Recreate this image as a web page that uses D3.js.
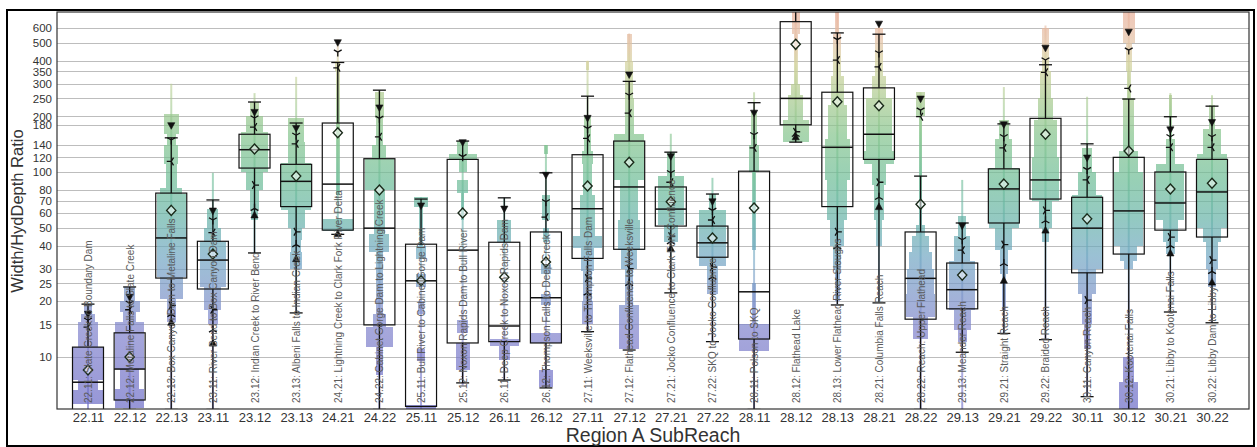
<!DOCTYPE html>
<html><head><meta charset="utf-8">
<script src="https://cdn.jsdelivr.net/npm/d3@7"></script>
<style>body{margin:0;background:#fff;} svg{display:block;font-family:"Liberation Sans",Arial,sans-serif;}</style>
</head><body><svg id="c" width="1257" height="447"></svg>
<script>
const categories = ["22.11","22.12","22.13","23.11","23.12","23.13","24.21","24.22","25.11","25.12","26.11","26.12","27.11","27.12","27.21","27.22","28.11","28.12","28.13","28.21","28.22","29.13","29.21","29.22","30.11","30.12","30.21","30.22"];
const reachNames = ["22.11: Slate Creek to Boundary Dam","22.12: Metaline Falls to Slate Creek","22.13: Box Canyon Dam to Metaline Falls","23.11: River Bend to Box Canyon Dam","23.12: Indian Creek to River Bend","23.13: Albeni Falls to Indian Creek","24.21: Lightning Creek to Clark Fork River Delta","24.22: Cabinet Gorge Dam to Lightning Creek","25.11: Bull River to Cabinet Gorge Dam","25.12: Noxon Rapids Dam to Bull River","26.11: Deep Creek to Noxon Rapids Dam","26.12: Thompson Falls to Deep Creek","27.11: Weeksville to Thompson Falls Dam","27.12: Flathead Confluence to Weeksville","27.21: Jocko Confluence to Clark Fork Confluence","27.22: SKQ to Jocko Confluence","28.11: Polson to SKQ","28.12: Flathead Lake","28.13: Lower Flathead River Sloughs","28.21: Columbia Falls Reach","28.22: Reach: Upper Flathead","29.13: Meander Reach","29.21: Straight Reach","29.22: Braided Reach","30.11: Canyon Reach","30.12: Kootenai Falls","30.21: Libby to Kootenai Falls","30.22: Libby Dam to Libby"];
const yTicks = [10,15,20,25,30,40,50,60,70,80,100,120,140,180,200,250,300,350,400,500,600];

const q1 =        [5.0, 5.85,26.7,23.3,105, 65,  48.5,14.9,5.4, 11.9,12.1,11.9,34.1,38.2,51, 34.6,12.5,180,65, 117,16.0,18.2,53, 71.4,28.5,36, 48.5,44.5];
const medians =   [7.3, 8.6, 44,  33.4,132, 89,  86,  49.7,25.8,37.8,14.7,20.9,63.3,83, 63, 41.4,22.5,250,136,160,26.6,23.1,81, 90.6,49.7,61.6,68, 78];
const q3 =        [11.3,13.5,76.9,42.2,160, 110, 184, 118, 40.7,117, 41.7,47.4,124, 147,83, 51, 101, 650,270,285,47.4,32.2,104,195, 73, 120, 100,117];
const whiskerLo = [5.0, 5.2, 5.2, 5.2, 36.5,17.3,46,  5.2, null,7.24,7.5, 6.8, 13.7,10.9,22.2,12.1,5.2,145,19.1,19.6,5.2,10.6,13.4,12.4,6.1,5.2,17.5,15.3];
const whiskerHi = [19.3,23.9,153, 70.6,239, 184, 391, 277, 71.4,147, 72.5,99,  257, 309,128,76, 237, 900,565,556,95, 53, 182,380, 142,248, 199,227];
const means =     [8.5, 10,  62,  36,  133, 95,  163, 80,  25.8,60,  27,  32.6,84,  113,69, 44, 63.9,490,240,228,67, 27.7,86, 160, 55.8,130,81, 87];
const rangeLo =   [5.0, 5.2, 5.2, 5.2, 36.5,17.3,46,  5.2, 5.2, 7.0, 7.5, 6.8, 13.7,10.9,22.2,12.1,5.2,145,19.1,19.6,5.2,5.2,13.4,12.4,6.1,5.2,17.5,15.3];
const rangeHi =   [19.3,23.9,300, 99,  267, 327, 520, 277, 73,  147, 72.5,140, 400, 560,161,93, 270, 900,900,630,270,90.6,288,620,255,900,267,260];
// upper percentile markers: [down-triangle, tri-down, tri-left]
const upperMarks = [[17.0,15.8,14.5],[21,19.5,18],[178,149,114],[61.5,55,47],[210,196,175],[172,158,142],[500,445,366],[222,195,155],[65.5,null,null],[144,121,null],[63,null,null],[96,69,57],[195,172,152],[335,260,208],[121,99,88],[69,62,55],[208,159,135],[null,null,null],[null,520,403],[630,440,370],[248,216,199],[51,43,37.8],[180,155,135],[467,403,346],[119,103,90.6],[570,456,283],[169,155,136],[185,155,136]];
// lower percentile markers: [tri-right, tri-up, up-triangle]
const lowerMarks = [[null,null,null],[null,null,null],[19,17,15.4],[18,14,11.9],[85,63.6,58.6],[47.5,40.5,34],[null,null,46.5],[null,null,null],[null,null,null],[null,null,null],[null,null,null],[null,null,null],[26.7,22.2,null],[30,25,null],[45,42,38.7],[30.6,27,null],[null,null,null],[165,160,155],[47.5,39.5,null],[88,73,65],[null,null,null],[null,null,null],[40.5,32,26],[62,54.5,48.5],[20.3,null,null],[null,null,null],[44.5,40,36.5],[33.4,29,25.4]];
// letter-value silhouette per reach: [low, high, relative width]
const boxen = [
 [[17,19.3,0.25],[15.5,17,0.45],[11.3,15.5,0.65],[7.5,11.3,0.95],[6.6,7.5,0.65],[5.6,6.6,0.95]],
 [[20,24,0.35],[17.5,20,0.65],[15.5,17.5,0.4],[8.6,15.5,0.95],[6.7,8.6,0.6],[5.3,6.7,0.95]],
 [[160,207,0.5],[140,160,0.3],[110,140,0.45],[82,110,0.35],[76,82,0.7],[27,76,0.95],[20.5,27,0.75],[15.5,20.5,0.3]],
 [[50,63,0.35],[42,50,0.55],[24,42,0.85],[18,24,0.55],[15,18,0.3]],
 [[200,240,0.3],[165,200,0.55],[100,165,0.9],[80,100,0.55],[62,80,0.3],[55,62,0.2]],
 [[145,195,0.5],[112,145,0.55],[62,112,0.95],[50,62,0.55],[43,50,0.35],[37,43,0.3],[30,37,0.4]],
 [[350,400,0.15],[110,350,0.14],[75,110,0.12],[48,56,0.95]],
 [[195,270,0.28],[140,195,0.2],[118,140,0.45],[80,118,0.95],[46,80,0.35],[37,46,0.65],[17,37,0.25],[14.5,17,0.4],[11.3,14.5,0.85],[8,11.3,0.25]],
 [[65,73,0.45],[40,65,0.1],[34,40,0.3],[24,28,0.35],[17,20,0.2],[9.5,11,0.25],[5.2,5.5,0.95]],
 [[125,147,0.35],[117,125,0.9],[100,117,0.25],[77,90,0.35],[55,77,0.1],[13.5,15.8,0.35],[8.5,11.9,0.45]],
 [[42,55,0.45],[11.5,12.5,0.95],[9.6,11.5,0.35]],
 [[125,140,0.15],[55,75,0.25],[42,50,0.2],[28,32,0.35],[19,22,0.35],[11.9,13.5,0.95],[6.9,8.5,0.45]],
 [[355,400,0.12],[130,200,0.25],[110,130,0.35],[75,110,0.3],[45,75,0.5],[39,45,0.95],[29,39,0.4],[20,29,0.3],[15,20,0.35]],
 [[400,560,0.15],[250,400,0.25],[160,250,0.3],[90,160,0.95],[55,90,0.6],[38,55,0.7],[30,38,0.5],[19,30,0.25],[11,19,0.65]],
 [[95,128,0.25],[52,95,0.85],[42,52,0.45]],
 [[62,76,0.25],[31,62,0.85],[22,31,0.35]],
 [[140,210,0.2],[100,140,0.3],[38,100,0.12],[14,25,0.12],[10.8,15,0.95]],
 [[560,900,0.25],[300,560,0.12],[260,300,0.3],[190,260,0.5],[145,190,0.85]],
 [[560,900,0.12],[330,560,0.25],[230,330,0.4],[150,230,0.6],[90,150,0.8],[55,90,0.65],[40,55,0.45],[30,40,0.25],[20,30,0.15]],
 [[330,600,0.25],[250,330,0.45],[130,250,0.85],[110,130,0.95],[85,110,0.45],[55,85,0.3],[40,55,0.2]],
 [[200,270,0.28],[52,200,0.08],[45,52,0.3],[37,45,0.55],[30,37,0.75],[22,30,0.85],[16.5,22,0.95],[12.5,16.5,0.5]],
 [[45,58,0.25],[33,45,0.5],[18,33,0.85],[14,18,0.55],[12,14,0.3]],
 [[150,190,0.3],[105,150,0.55],[50,105,0.95],[38,50,0.55],[28,38,0.25],[18,28,0.12]],
 [[350,600,0.2],[250,350,0.35],[190,250,0.5],[120,190,0.75],[70,120,0.85],[50,70,0.45],[42,50,0.25]],
 [[100,135,0.3],[75,100,0.6],[30,75,0.95],[22,30,0.6],[15,22,0.3],[11,15,0.2]],
 [[500,900,0.4],[350,500,0.2],[250,350,0.12],[130,250,0.35],[100,130,0.6],[40,100,0.95],[33,40,0.55],[30,33,0.3],[7.3,10,0.35],[5.2,7.3,0.6]],
 [[150,260,0.1],[110,150,0.3],[55,110,0.9],[42,55,0.5],[36,42,0.3]],
 [[170,230,0.2],[125,170,0.55],[50,125,0.95],[42,50,0.6],[30,42,0.4],[24,30,0.25]]
];
const colorValues = [5.2,8,14,22,35,55,90,160,260,380,520,733];
const colorStops = ["#6a6ac6","#7474c8","#8082cc","#7a94c8","#70a6c2","#66b2a8","#6cbc96","#84c48c","#acca8e","#d2d29c","#e4c0a4","#e8ae98"];

const svg = d3.select("#c");
const P = {l:57, r:1249, t:12, b:409};
const y = d3.scaleLog().domain([5.23,733]).range([P.b,P.t]);
const x = d3.scalePoint().domain(categories).range([88,1212]);
const boxW = 31;

const defs = svg.append("defs");
defs.append("clipPath").attr("id","clip").append("rect").attr("x",P.l).attr("y",P.t).attr("width",P.r-P.l).attr("height",P.b-P.t);
const grad = defs.append("linearGradient").attr("id","cg").attr("gradientUnits","userSpaceOnUse")
  .attr("x1",0).attr("x2",0).attr("y1",P.b).attr("y2",P.t);
colorValues.forEach((v,i)=>{
  grad.append("stop").attr("offset",(P.b-y(v))/(P.b-P.t)).attr("stop-color",colorStops[i]);
});

// outer frame
svg.append("rect").attr("x",7).attr("y",10).attr("width",1247).attr("height",436).attr("fill","none").attr("stroke","#000").attr("stroke-width",2);

// grid
svg.append("g").selectAll("line").data(yTicks).join("line")
  .attr("x1",P.l).attr("x2",P.r).attr("y1",d=>Math.round(y(d))+0.5).attr("y2",d=>Math.round(y(d))+0.5)
  .attr("stroke","#bdbdbd").attr("stroke-width",1);

const g = svg.append("g").attr("clip-path","url(#clip)");

// boxen silhouettes
categories.forEach((c,i)=>{
  const cx = x(c);
  const segs = boxen[i];
  const bps = Array.from(new Set(segs.flatMap(s=>[s[0],s[1]]))).sort((a,b)=>a-b);
  for(let k=0;k<bps.length-1;k++){
    const lo=bps[k], hi=bps[k+1], mid=Math.sqrt(lo*hi);
    let w=0; segs.forEach(s=>{ if(s[0]<=mid && s[1]>=mid) w=Math.max(w,s[2]); });
    if(w<=0) continue;
    const ww = w*boxW;
    g.append("rect").attr("x",cx-ww/2).attr("width",ww)
      .attr("y",y(hi)).attr("height",y(lo)-y(hi))
      .attr("fill","url(#cg)").attr("fill-opacity",0.7).attr("shape-rendering","crispEdges");
  }
  g.append("line").attr("x1",cx).attr("x2",cx).attr("y1",y(rangeLo[i])).attr("y2",y(rangeHi[i]))
    .attr("stroke","url(#cg)").attr("stroke-width",2).attr("stroke-opacity",0.6);
});

// whiskers and boxes
categories.forEach((c,i)=>{
  const cx = x(c);
  const wl = g.append("g").attr("stroke","#111").attr("stroke-width",1.3).attr("fill","none");
  wl.append("line").attr("x1",cx).attr("x2",cx).attr("y1",y(q3[i])).attr("y2",y(whiskerHi[i]));
  wl.append("line").attr("x1",cx-6.5).attr("x2",cx+6.5).attr("y1",y(whiskerHi[i])).attr("y2",y(whiskerHi[i]));
  if(whiskerLo[i]!=null){
    wl.append("line").attr("x1",cx).attr("x2",cx).attr("y1",y(q1[i])).attr("y2",y(whiskerLo[i]));
    wl.append("line").attr("x1",cx-6.5).attr("x2",cx+6.5).attr("y1",y(whiskerLo[i])).attr("y2",y(whiskerLo[i]));
  }
  g.append("rect").attr("x",cx-boxW/2).attr("width",boxW).attr("y",y(q3[i])).attr("height",y(q1[i])-y(q3[i]))
    .attr("fill","none").attr("stroke","#111").attr("stroke-width",1.2);
  g.append("line").attr("x1",cx-boxW/2).attr("x2",cx+boxW/2).attr("y1",y(medians[i])).attr("y2",y(medians[i]))
    .attr("stroke","#111").attr("stroke-width",1.5);
});

// markers
function tri(vecs,r){ return vecs.map(v=>`M0,0L${(v[0]*r).toFixed(2)},${(v[1]*r).toFixed(2)}`).join(""); }
const s3=0.866;
const shapes = {
  tdown: {d:"M-3.6,-3L3.6,-3L0,3.6Z", fill:true},
  tup: {d:"M-3.6,3L3.6,3L0,-3.6Z", fill:true},
  y1: {d:tri([[0,1],[-s3,-0.5],[s3,-0.5]],4.5), fill:false},
  y2: {d:tri([[0,-1],[-s3,0.5],[s3,0.5]],4.5), fill:false},
  y3: {d:tri([[-1,0],[0.5,-s3],[0.5,s3]],4.5), fill:false},
  y4: {d:tri([[1,0],[-0.5,-s3],[-0.5,s3]],4.5), fill:false}
};
const upKinds=["tdown","y1","y3"], loKinds=["y4","y2","tup"];
categories.forEach((c,i)=>{
  const cx=x(c);
  const put=(v,k)=>{ if(v==null) return; const s=shapes[k];
    g.append("path").attr("d",s.d).attr("transform",`translate(${cx},${y(v)})`)
      .attr("fill",s.fill?"#111":"none").attr("stroke","#111").attr("stroke-width",s.fill?0.6:1.3); };
  upperMarks[i].forEach((v,j)=>put(v,upKinds[j]));
  lowerMarks[i].forEach((v,j)=>put(v,loKinds[j]));
  g.append("path").attr("d","M0,-5L4.6,0L0,5L-4.6,0Z").attr("transform",`translate(${cx},${y(means[i])})`)
    .attr("fill","#fff").attr("fill-opacity",0.55).attr("stroke","#1a2a1a").attr("stroke-width",1.4);
});

// reach name labels
svg.append("g").selectAll("text").data(categories).join("text")
  .attr("transform",d=>`translate(${x(d)+0.5},403) rotate(-90)`)
  .attr("dy","0.35em").attr("text-anchor","start")
  .attr("font-size",10).attr("fill","#5a5a5a")
  .text((d,i)=>reachNames[i]);

// plot frame
svg.append("rect").attr("x",P.l).attr("y",P.t).attr("width",P.r-P.l).attr("height",P.b-P.t)
  .attr("fill","none").attr("stroke","#333").attr("stroke-width",1.2);

// axes
const ya = svg.append("g").attr("transform",`translate(${P.l},0)`)
  .call(d3.axisLeft(y).tickValues(yTicks).tickFormat(d3.format("d")).tickSize(0).tickPadding(5));
ya.select(".domain").remove();
ya.selectAll("text").attr("font-size",11.5).attr("fill","#333").attr("font-family","Liberation Sans, Arial, sans-serif");

const xa = svg.append("g").attr("transform",`translate(0,${P.b})`)
  .call(d3.axisBottom(x).tickSize(0).tickPadding(4));
xa.select(".domain").remove();
xa.selectAll("text").attr("font-size",13).attr("fill","#333").attr("font-family","Liberation Sans, Arial, sans-serif");

svg.append("text").attr("x",(P.l+P.r)/2).attr("y",442).attr("text-anchor","middle")
  .attr("font-size",19.5).attr("fill","#333").text("Region A SubReach");
svg.append("text").attr("transform","translate(23,211) rotate(-90)").attr("text-anchor","middle")
  .attr("font-size",16.5).attr("fill","#333").text("Width/HydDepth Ratio");
</script></body></html>
